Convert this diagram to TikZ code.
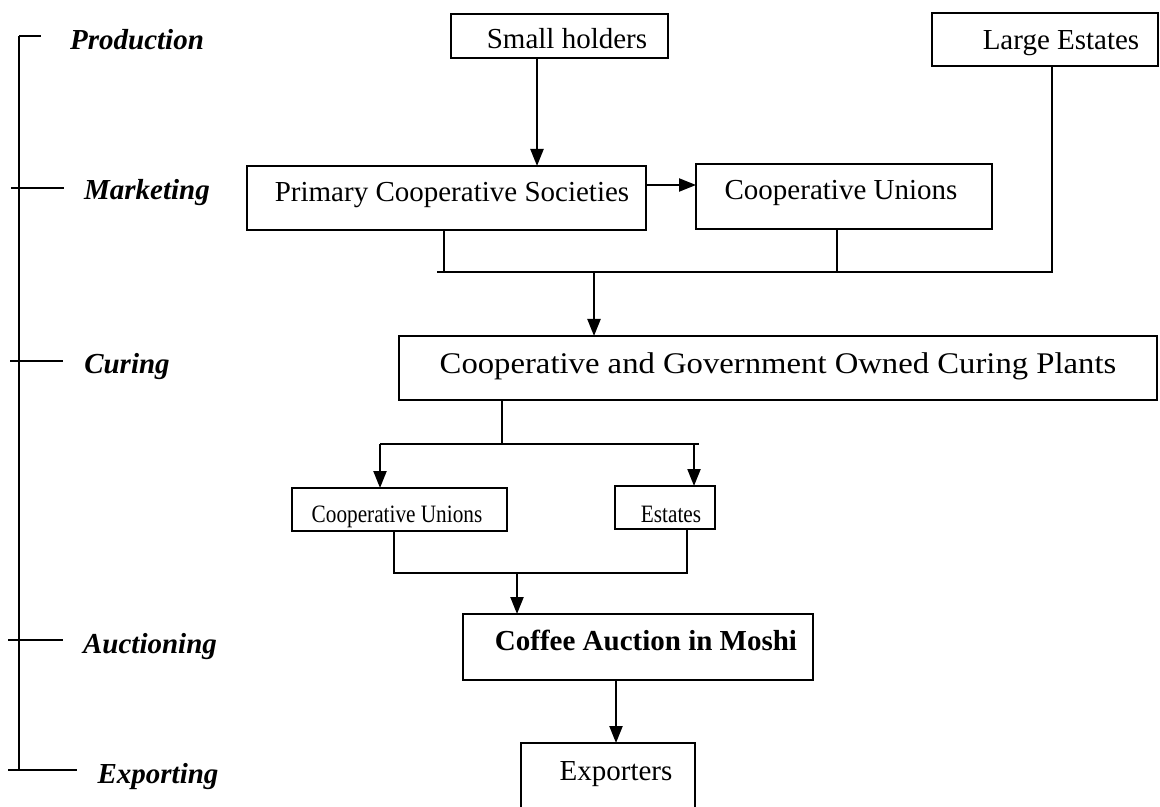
\documentclass[tikz,border=0pt]{standalone}
\usepackage{fontspec}
\setmainfont{Liberation Serif}
\newfontfamily\condserif[FakeStretch=0.85]{Liberation Serif}
\newfontfamily\wideserif[FakeStretch=1.09]{Liberation Serif}
\usetikzlibrary{arrows.meta,fit}
\begin{document}
\begin{tikzpicture}[x=0.5pt,y=-0.5pt,
  box/.style={draw,line width=1.2pt,inner sep=0pt,outer sep=0pt,rectangle},
  txt/.style={anchor=base,inner sep=0pt,font=\fontsize{14.5pt}{17pt}\selectfont},
  stage/.style={anchor=base,inner sep=0pt,font=\fontsize{14.5pt}{17pt}\selectfont\bfseries\itshape},
  link/.style={line width=1.1pt},
  arr/.style={line width=1.1pt,-{Triangle[length=8.5pt,width=6.5pt]}},
]
\useasboundingbox (0,0) rectangle (1160,807);
\clip (0,0) rectangle (1160,807);

% stage axis on the left
\draw[link] (19,36) -- (19,770);
\draw[link] (19,36) -- (41,36);
\draw[link] (11,188) -- (64,188);
\draw[link] (10,361) -- (63,361);
\draw[link] (8,640) -- (63,640);
\draw[link] (8,770) -- (77,770);
\node[stage] (lprod) at (137,50) {Production};
\node[stage] (lmark) at (147,200) {Marketing};
\node[stage] (lcure) at (127,373) {Curing};
\node[stage] (lauct) at (150,653) {Auctioning};
\node[stage] (lexp)  at (158,783) {Exporting};

% boxes
\node[box,fit={(451,14) (668,58)}] (sh) {};
\node[box,fit={(932,13) (1158,66)}] (le) {};
\node[box,fit={(247,166) (646,230)}] (pcs) {};
\node[box,fit={(696,164) (992,229)}] (cu1) {};
\node[box,fit={(399,336) (1157,400)}] (cp) {};
\node[box,fit={(292,488) (507,531)}] (cu2) {};
\node[box,fit={(615,486) (715,529)}] (es) {};
\node[box,fit={(463,614) (813,680)}] (ca) {};
\node[box,fit={(521,743) (695,830)}] (ex) {};

% box texts
\node[txt] (tsh) at (567,49) {Small holders};
\node[txt] (tle) at (1061,50) {Large Estates};
\node[txt] (tpcs) at (452,202) {Primary Cooperative Societies};
\node[txt] (tcu1) at (841,200) {Cooperative Unions};
\node[txt,font=\fontsize{15pt}{17pt}\wideserif] (tcp) at (778,373) {Cooperative and Government Owned Curing Plants};
\node[txt,font=\fontsize{12.5pt}{15pt}\condserif] (tcu2) at (397,522) {Cooperative Unions};
\node[txt,font=\fontsize{12.5pt}{15pt}\condserif] (tes) at (671,522) {Estates};
\node[txt,font=\fontsize{14.5pt}{17pt}\selectfont\bfseries] (tca) at (646,650) {Coffee Auction in Moshi};
\node[txt] (tex) at (616,780) {Exporters};

% connectors
\draw[arr] ([xshift=43pt]sh.south west) coordinate (s1) -- (s1 |- pcs.north);
\draw[arr] ([yshift=6.5pt]pcs.east) coordinate (s2) -- (s2 -| cu1.west);

\coordinate (j1) at (437,272);
\coordinate (j1d) at (594,272);
\draw[link] ([xshift=60pt]le.south west) |- (j1);
\draw[link] ([xshift=98.5pt]pcs.south west) coordinate (s3) -- (s3 |- j1);
\draw[link] ([xshift=70.5pt]cu1.south west) coordinate (s4) -- (s4 |- j1);
\draw[arr] (j1d) -- (j1d |- cp.north);

\coordinate (j2l) at (380,444);
\coordinate (j2r) at (699,444);
\coordinate (j2a) at (694,444);
\draw[link] ([xshift=51.5pt]cp.south west) coordinate (s5) -- (s5 |- j2l);
\draw[link] (j2l) -- (j2r);
\draw[arr] (j2l) -- (j2l |- cu2.north);
\draw[arr] (j2a) -- (j2a |- es.north);

\coordinate (j3) at (517,573);
\draw[link] ([xshift=51pt]cu2.south west) |- (j3) -| ([xshift=36pt]es.south west);
\draw[arr] (j3) -- (j3 |- ca.north);

\draw[arr] ([xshift=76.5pt]ca.south west) coordinate (s6) -- (s6 |- ex.north);
\end{tikzpicture}
\end{document}
